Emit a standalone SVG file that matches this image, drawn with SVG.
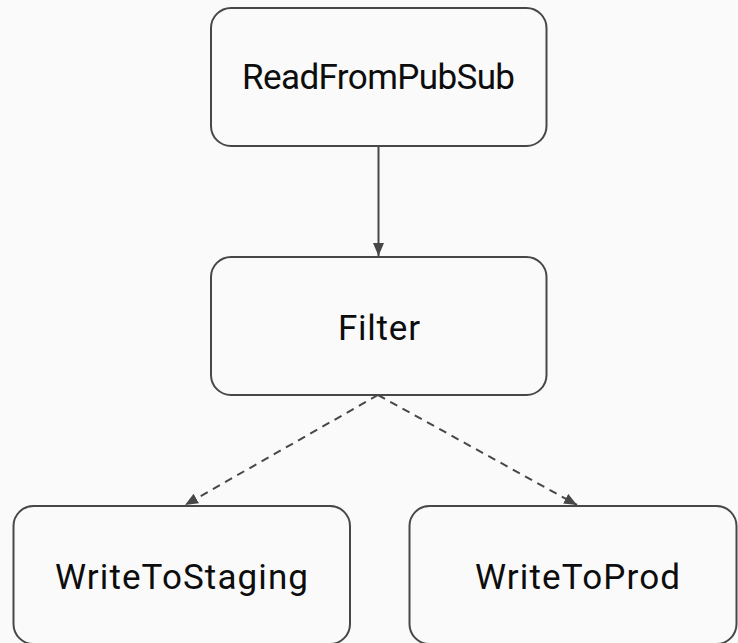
<svg xmlns="http://www.w3.org/2000/svg" width="738" height="643" viewBox="0 0 738 643">
  <style>
    .node rect { fill: #fafafa; stroke: #474747; stroke-width: 2; }
    .node text { font-family: Roboto, "Liberation Sans", sans-serif; font-size: 35px; fill: #0d0d0d; text-anchor: middle; }
    .edge { fill: none; stroke: #474747; stroke-width: 2; }
    .dashed { stroke-dasharray: 8 6; }
  </style>
  <defs>
    <marker id="arrow" viewBox="0 0 13 11" refX="13" refY="5.5" markerWidth="13" markerHeight="11" markerUnits="userSpaceOnUse" orient="auto">
      <path d="M0,0 L13,5.5 L0,11 Z" fill="#474747"/>
    </marker>
  </defs>
  <rect width="738" height="643" fill="#fafafa"/>

  <g id="connectors">
    <line class="edge" x1="378.5" y1="146" x2="378.5" y2="256" marker-end="url(#arrow)"/>
    <line class="edge dashed" x1="378" y1="395" x2="185" y2="505" marker-end="url(#arrow)"/>
    <line class="edge dashed" x1="378" y1="395" x2="577" y2="505" marker-end="url(#arrow)"/>
  </g>

  <g id="node-read" class="node">
    <rect x="211" y="8" width="335.5" height="138" rx="20"/>
    <text x="378.5" y="89" textLength="273" lengthAdjust="spacing">ReadFromPubSub</text>
  </g>
  <g id="node-filter" class="node">
    <rect x="211" y="257" width="335.5" height="138" rx="20"/>
    <text x="379" y="340" textLength="82" lengthAdjust="spacing">Filter</text>
  </g>
  <g id="node-staging" class="node">
    <rect x="13.5" y="506" width="336.5" height="138" rx="20"/>
    <text x="181.5" y="589" textLength="253" lengthAdjust="spacing">WriteToStaging</text>
  </g>
  <g id="node-prod" class="node">
    <rect x="409.5" y="506" width="327" height="138" rx="20"/>
    <text x="577.5" y="589" textLength="205" lengthAdjust="spacing">WriteToProd</text>
  </g>
</svg>
